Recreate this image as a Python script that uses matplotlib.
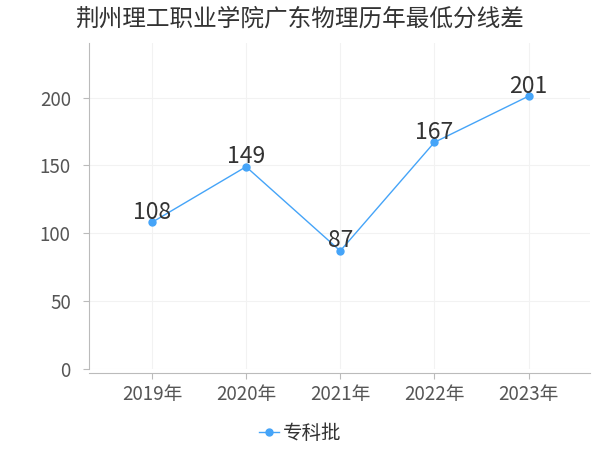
import matplotlib.pyplot as plt

plt.rcParams['font.family'] = ['Noto Sans CJK SC', 'DejaVu Sans']

# 数据
years = ['2019年', '2020年', '2021年', '2022年', '2023年']
scores = [108, 149, 87, 167, 201]
series_name = '专科批'
line_color = '#45a4f8'

fig = plt.figure(figsize=(6, 4.5), dpi=100)
ax = fig.add_axes([0.148, 0.18, 0.835, 0.724])

x = list(range(len(years)))
ax.plot(x, scores, color=line_color, linewidth=1, marker='o', markersize=5,
        label=series_name, zorder=3)

for xi, v in zip(x, scores):
    ax.annotate(str(v), (xi, v), xytext=(0, -1), textcoords='offset points',
                ha='center', va='bottom', fontsize=16.5, color='#333333')

ax.set_xlim(-0.67, 4.65)
ax.set_ylim(0, 240)
ax.set_xticks(x)
ax.set_xticklabels(years)
ax.set_yticks([0, 50, 100, 150, 200])

ax.grid(True, color='#f2f2f2', linewidth=0.8)
ax.set_axisbelow(True)
for s in ['top', 'right']:
    ax.spines[s].set_visible(False)
ax.spines['left'].set_color('#bbbbbb')
ax.spines['bottom'].set_color('#bbbbbb')
ax.spines['bottom'].set_position(('outward', 3))
ax.tick_params(axis='both', colors='#bbbbbb', labelcolor='#555555',
               labelsize=13.5, length=4)
ax.tick_params(axis='y', pad=9)

ax.set_title('荆州理工职业学院广东物理历年最低分线差', fontsize=17,
             color='#333333', pad=13, x=0.42)

fig.legend(loc='lower center', bbox_to_anchor=(0.5, -0.025), frameon=False,
           fontsize=14, handlelength=1.0, handletextpad=0.2,
           labelcolor='#333333')

plt.savefig('out.png')
